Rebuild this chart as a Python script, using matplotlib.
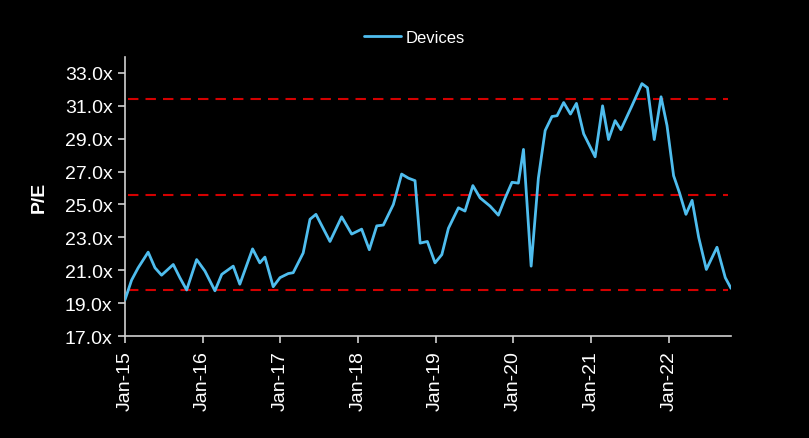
import matplotlib
matplotlib.use("Agg")
import matplotlib.pyplot as plt
import matplotlib.dates as mdates
import matplotlib.ticker as mticker
import pandas as pd

# =============================================================================
# Data
# =============================================================================
DATES = [
    "2015-01-01", "2015-02-01", "2015-03-04", "2015-04-20", "2015-05-22",
    "2015-06-22", "2015-08-16", "2015-09-16", "2015-10-18", "2015-12-04",
    "2016-01-12", "2016-02-28", "2016-03-31", "2016-05-24", "2016-06-24",
    "2016-08-23", "2016-09-26", "2016-10-20", "2016-11-28", "2016-12-30",
    "2017-02-07", "2017-03-02", "2017-04-18", "2017-05-20", "2017-06-17",
    "2017-08-22", "2017-10-16", "2017-12-02", "2018-01-18", "2018-02-23",
    "2018-03-30", "2018-04-30", "2018-06-16", "2018-07-25", "2018-08-26",
    "2018-09-26", "2018-10-20", "2018-11-23", "2018-12-29", "2019-01-30",
    "2019-03-02", "2019-04-18", "2019-05-19", "2019-06-25", "2019-07-29",
    "2019-09-14", "2019-10-23", "2019-11-24", "2019-12-26", "2020-01-25",
    "2020-02-18", "2020-03-25", "2020-04-28", "2020-05-30", "2020-07-01",
    "2020-07-25", "2020-08-25", "2020-09-26", "2020-10-24", "2020-11-27",
    "2021-01-20", "2021-02-24", "2021-03-24", "2021-04-24", "2021-05-21",
    "2021-07-12", "2021-08-28", "2021-09-23", "2021-10-25", "2021-11-26",
    "2021-12-24", "2022-01-24", "2022-02-21", "2022-03-23", "2022-04-21",
    "2022-05-22", "2022-06-27", "2022-08-16", "2022-09-24", "2022-10-21",
]
PE_DEVICES = [
    19.2, 20.4, 21.15, 22.1, 21.15,
    20.7, 21.35, 20.55, 19.8, 21.65,
    20.95, 19.75, 20.75, 21.25, 20.15,
    22.3, 21.45, 21.8, 20.0, 20.55,
    20.8, 20.85, 22.05, 24.1, 24.4,
    22.75, 24.25, 23.2, 23.5, 22.25,
    23.7, 23.75, 25.0, 26.85, 26.6,
    26.45, 22.65, 22.75, 21.45, 21.95,
    23.55, 24.8, 24.6, 26.15, 25.4,
    24.9, 24.35, 25.4, 26.35, 26.3,
    28.35, 21.25, 26.6, 29.5, 30.35,
    30.4, 31.2, 30.5, 31.15, 29.3,
    27.9, 31.0, 28.95, 30.1, 29.55,
    31.0, 32.35, 32.1, 28.95, 31.55,
    29.8, 26.75, 25.7, 24.4, 25.25,
    23.0, 21.05, 22.4, 20.55, 19.9,
]
SERIES_NAME = "Devices"

# Average and +/- 1 standard deviation bands
MEAN_LEVEL = 25.6
BAND_LEVELS = [31.4, MEAN_LEVEL, 19.8]

Y_MIN, Y_MAX, Y_STEP = 17, 34, 2
TICK_YEARS = list(range(2015, 2023))

# =============================================================================
# Style
# =============================================================================
BG = "#000000"
LINE_COLOR = "#4FBDEE"
BAND_COLOR = "#D40000"
AXIS_COLOR = "#D0D0D0"
TEXT_COLOR = "#FFFFFF"
FONT = ["Liberation Sans", "DejaVu Sans"]

plt.rcParams["font.family"] = FONT

dates = pd.to_datetime(DATES)

fig = plt.figure(figsize=(8.09, 4.39), dpi=100, facecolor=BG)
ax = fig.add_axes([0.1545, 0.2323, 0.7491, 0.6367], facecolor=BG)

for level in BAND_LEVELS:
    ax.axhline(level, color=BAND_COLOR, linewidth=1.5, linestyle=(0, (5, 3.4)),
               xmin=0.005, xmax=0.995, zorder=1)

ax.plot(dates, PE_DEVICES, color=LINE_COLOR, linewidth=2.0,
        solid_joinstyle="round", solid_capstyle="round", label=SERIES_NAME, zorder=3)

ax.set_xlim(dates[0], dates[-1])
ax.set_ylim(Y_MIN, Y_MAX)

ax.set_yticks(list(range(Y_MIN, Y_MAX, Y_STEP)))
ax.yaxis.set_major_formatter(mticker.FuncFormatter(lambda v, _: f"{v:.1f}x"))

ax.set_xticks([pd.Timestamp(f"{y}-01-01") for y in TICK_YEARS])
ax.xaxis.set_major_formatter(mdates.DateFormatter("%b-%y"))
plt.setp(ax.get_xticklabels(), rotation=90)

for side in ["top", "right"]:
    ax.spines[side].set_visible(False)
for side in ["left", "bottom"]:
    ax.spines[side].set_color(AXIS_COLOR)
    ax.spines[side].set_linewidth(1.2)

ax.tick_params(axis="both", colors=AXIS_COLOR, labelcolor=TEXT_COLOR,
               labelsize=14, length=5, width=1.2, direction="out")
ax.tick_params(axis="y", pad=4)
ax.tick_params(axis="x", pad=5)

ax.set_ylabel("P/E", color=TEXT_COLOR, fontsize=14, fontweight="bold", labelpad=12)

leg = ax.legend(loc="center", bbox_to_anchor=(0.478, 1.068), frameon=False,
                fontsize=12, handlelength=2.2, handletextpad=0.3)
for text in leg.get_texts():
    text.set_color(TEXT_COLOR)

fig.savefig("out.png", dpi=100, facecolor=BG)
plt.close(fig)
